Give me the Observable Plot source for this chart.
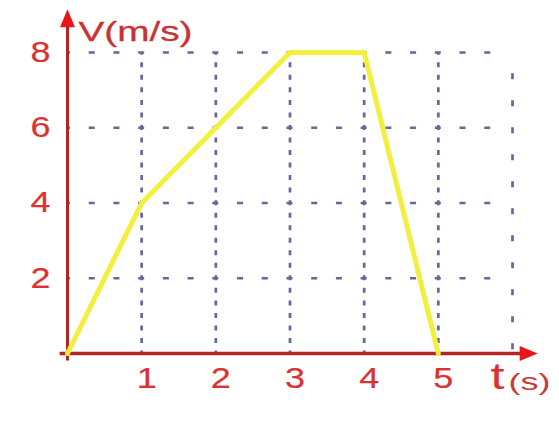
<!DOCTYPE html>
<html>
<head>
<meta charset="utf-8">
<script src="https://cdn.jsdelivr.net/npm/d3@7"></script>
<script src="https://cdn.jsdelivr.net/npm/@observablehq/plot@0.6"></script>
<style>
  html, body { margin: 0; padding: 0; background: #fff; }
</style>
</head>
<body>
<div id="chart"></div>
<script>
// Velocity–time graph of a moving body
const times  = [0, 1, 2, 3, 4, 5];      // t (s)
const speeds = [0, 4, 6, 8, 8, 0];      // v (m/s)

const xTicks = [1, 2, 3, 4, 5];
const yTicks = [2, 4, 6, 8];
const gridX  = [1, 2, 3, 4, 5];
const outerGridX = [6];

const xAxisName = "t";
const xUnit = "(s)";
const yAxisName = "V(m/s)";

const gridColor = "#66669a";
const axisColor = "#b32424";
const arrowColor = "#e8161a";
const labelColor = "#dd3030";
const lineColor = "#f2ef3e";
const font = "Liberation Sans, Arial, sans-serif";

const motion = times.map((t, i) => ({t, v: speeds[i]}));

// filled arrowhead, tip at the anchor point, pointing up
const arrowHead = {
  draw(context) {
    context.moveTo(0, 0);
    context.lineTo(7.5, 18);
    context.lineTo(-7.5, 18);
    context.closePath();
  }
};

const chart = Plot.plot({
  width: 559,
  height: 423,
  marginLeft: 67,
  marginRight: 47,
  marginTop: 52,
  marginBottom: 70,
  x: {domain: [0, 6], axis: null},
  y: {domain: [0, 8], axis: null},
  style: {background: "white", overflow: "visible"},
  marks: [
    // dashed grid
    Plot.ruleY(yTicks, {y: d => d, x1: 0, x2: 5.8, stroke: gridColor, strokeWidth: 2.7,
      strokeDasharray: "6,18.72", strokeDashoffset: 3}),
    Plot.ruleX(gridX, {x: d => d, y1: 0, y2: 8, stroke: gridColor, strokeWidth: 2.7,
      strokeDasharray: "5,7.53", strokeDashoffset: 2.5}),
    Plot.ruleX(outerGridX, {x: d => d, y1: 0.1, y2: 7.7, stroke: gridColor, strokeWidth: 2.7,
      strokeDasharray: "6,21"}),
    // axes
    Plot.ruleX([0], {x: d => d, y1: -0.2, y2: 8.8, stroke: axisColor, strokeWidth: 3}),
    Plot.ruleY([0], {y: d => d, x1: -0.1, x2: 6.15, stroke: axisColor, strokeWidth: 3.5}),
    // velocity curve
    Plot.line(motion, {x: "t", y: "v", stroke: lineColor, strokeWidth: 5, strokeLinejoin: "round"}),
    // arrowheads
    Plot.dot([0], {x: 0, y: 9.15, symbol: arrowHead, fill: arrowColor, stroke: "none"}),
    Plot.dot([0], {x: 6.34, y: 0, symbol: arrowHead, fill: arrowColor, stroke: "none", rotate: 90}),
    // tick labels
    Plot.text(yTicks, {x: 0, y: d => d, text: d => String(d), dx: -27, fontSize: 29,
      fontFamily: font, fill: labelColor, stroke: labelColor, strokeWidth: 0.2, textAnchor: "middle"}),
    Plot.text(xTicks, {x: d => d, y: 0, text: d => String(d), dx: 5, dy: 25, fontSize: 29,
      fontFamily: font, fill: labelColor, stroke: labelColor, strokeWidth: 0.2, textAnchor: "middle"}),
    // axis names
    Plot.text([xAxisName], {x: 6, y: 0, text: d => d, dx: -15, dy: 24, fontSize: 36,
      fontFamily: font, fill: labelColor, textAnchor: "middle"}),
    Plot.text([xUnit], {x: 6, y: 0, text: d => d, dx: 17, dy: 29, fontSize: 24,
      fontFamily: font, fill: "#c83a3a", textAnchor: "middle"}),
    Plot.text([yAxisName], {x: 0, y: 8, text: d => d, dx: 11, dy: -20, fontSize: 27,
      fontFamily: font, fill: "#c83232", stroke: "#c83232", strokeWidth: 0.3, textAnchor: "start"})
  ]
});

// widen the glyphs to the drawn label widths
const widths = {[yAxisName]: 114, [xUnit]: 42, [xAxisName]: 14};
d3.select(chart).selectAll("text").each(function() {
  const s = this.textContent;
  const w = widths[s] ?? (/^\d$/.test(s) ? 20 : null);
  if (w != null) d3.select(this).attr("textLength", w).attr("lengthAdjust", "spacingAndGlyphs");
});

document.getElementById("chart").appendChild(chart);
</script>
</body>
</html>
